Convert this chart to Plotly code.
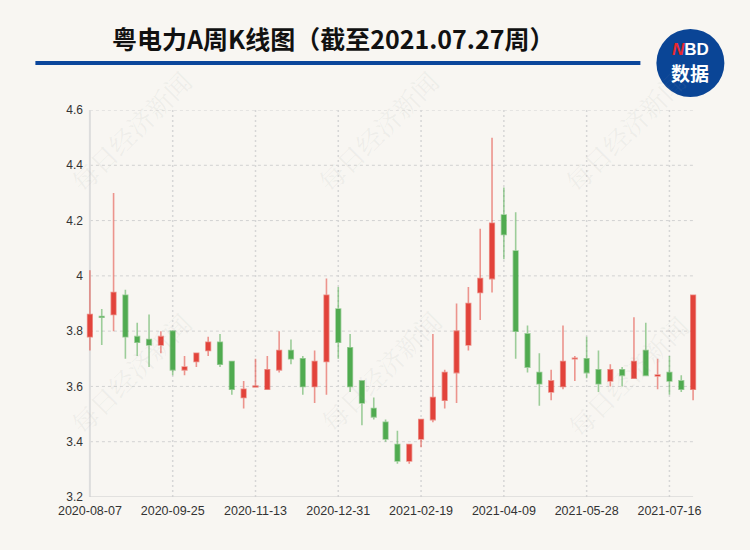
import plotly.graph_objects as go

dates = ["2020-08-07", "2020-08-14", "2020-08-21", "2020-08-28", "2020-09-04", "2020-09-11", "2020-09-18",
         "2020-09-25", "2020-09-30", "2020-10-09", "2020-10-16", "2020-10-23", "2020-10-30", "2020-11-06",
         "2020-11-13", "2020-11-20", "2020-11-27", "2020-12-04", "2020-12-11", "2020-12-18", "2020-12-25",
         "2020-12-31", "2021-01-08", "2021-01-15", "2021-01-22", "2021-01-29", "2021-02-05", "2021-02-10",
         "2021-02-19", "2021-02-26", "2021-03-05", "2021-03-12", "2021-03-19", "2021-03-26", "2021-04-02",
         "2021-04-09", "2021-04-16", "2021-04-23", "2021-04-30", "2021-05-07", "2021-05-14", "2021-05-21",
         "2021-05-28", "2021-06-04", "2021-06-11", "2021-06-18", "2021-06-25", "2021-07-02", "2021-07-09",
         "2021-07-16", "2021-07-23", "2021-07-27"]

open_ = [3.78, 3.853, 3.86, 3.93, 3.78, 3.77, 3.75, 3.80, 3.66, 3.69, 3.73, 3.76, 3.69,
         3.56, 3.598, 3.59, 3.66, 3.73, 3.70, 3.60, 3.69, 3.88, 3.74, 3.62, 3.52, 3.47,
         3.39, 3.33, 3.41, 3.48, 3.55, 3.65, 3.75, 3.94, 3.99, 4.22, 4.09, 3.79, 3.65,
         3.58, 3.60, 3.70, 3.70, 3.66, 3.62, 3.66, 3.63, 3.73, 3.638, 3.65, 3.62, 3.59]
close = [3.86, 3.850, 3.94, 3.78, 3.76, 3.75, 3.78, 3.66, 3.67, 3.72, 3.76, 3.68, 3.59,
         3.59, 3.601, 3.66, 3.73, 3.70, 3.60, 3.69, 3.93, 3.76, 3.60, 3.54, 3.49, 3.41,
         3.33, 3.39, 3.48, 3.56, 3.65, 3.80, 3.90, 3.99, 4.19, 4.15, 3.80, 3.67, 3.61,
         3.62, 3.69, 3.702, 3.65, 3.61, 3.66, 3.64, 3.69, 3.64, 3.641, 3.62, 3.59, 3.93]
high = [4.02, 3.88, 4.30, 3.95, 3.83, 3.86, 3.80, 3.80, 3.71, 3.72, 3.78, 3.79, 3.69,
        3.62, 3.70, 3.71, 3.80, 3.77, 3.71, 3.73, 3.99, 3.96, 3.79, 3.62, 3.56, 3.48,
        3.44, 3.39, 3.48, 3.79, 3.66, 3.90, 3.96, 4.17, 4.50, 4.32, 4.23, 3.82, 3.72,
        3.66, 3.82, 3.71, 3.78, 3.73, 3.68, 3.67, 3.85, 3.83, 3.70, 3.71, 3.64, 3.93]
low = [3.73, 3.75, 3.80, 3.70, 3.71, 3.67, 3.72, 3.64, 3.64, 3.67, 3.71, 3.67, 3.57,
       3.52, 3.595, 3.59, 3.65, 3.68, 3.57, 3.54, 3.57, 3.70, 3.58, 3.46, 3.48, 3.40,
       3.32, 3.32, 3.38, 3.47, 3.52, 3.54, 3.73, 3.84, 3.94, 4.06, 3.70, 3.65, 3.53,
       3.55, 3.59, 3.62, 3.63, 3.58, 3.60, 3.60, 3.63, 3.64, 3.59, 3.57, 3.58, 3.55]

x_tick_idx = [0, 7, 14, 21, 28, 35, 42, 49]
y_ticks = [3.2, 3.4, 3.6, 3.8, 4.0, 4.2, 4.4, 4.6]
y_ticktext = ["3.2", "3.4", "3.6", "3.8", "4", "4.2", "4.4", "4.6"]

title_text = "粤电力A周K线图（截至2021.07.27周）"
watermark = "每日经济新闻"

BG = "#f8f6f2"
RED_BODY = "#e2433b"
RED_WICK = "rgba(226,67,59,0.55)"
GREEN_BODY = "#50ab50"
GREEN_WICK = "rgba(80,171,80,0.55)"

L, R, T, B = 83.6, 51.4, 110, 53.3
PW, PH = 750 - L - R, 550 - T - B

def px(xp):
    return (xp - L) / PW

def py(yp):
    return (550 - B - yp) / PH

fig = go.Figure()
fig.add_trace(go.Candlestick(
    x=dates, open=open_, high=high, low=low, close=close,
    increasing=dict(line=dict(color=RED_WICK, width=1.6), fillcolor=RED_BODY),
    decreasing=dict(line=dict(color=GREEN_WICK, width=1.6), fillcolor=GREEN_BODY),
    whiskerwidth=0, showlegend=False, hoverinfo="skip",
))

n = len(dates)
shapes = []
for v in y_ticks[1:]:
    shapes.append(dict(type="line", xref="x", yref="y", x0=0, x1=n - 1, y0=v, y1=v,
                       line=dict(color="#d2d2d2", width=1, dash="3px,3px"), layer="below"))
for i in x_tick_idx[1:]:
    shapes.append(dict(type="line", xref="x", yref="y", x0=i, x1=i, y0=y_ticks[0], y1=y_ticks[-1],
                       line=dict(color="#d6d6d6", width=1.5, dash="2px,3px"), layer="below"))
shapes.append(dict(type="line", xref="x", yref="y", x0=0, x1=0, y0=y_ticks[0], y1=y_ticks[-1],
                   line=dict(color="#dddddd", width=2), layer="below"))
shapes.append(dict(type="line", xref="x", yref="y", x0=0, x1=n - 1, y0=y_ticks[0], y1=y_ticks[0],
                   line=dict(color="#cccccc", width=1), layer="below"))
shapes.append(dict(type="line", xref="paper", yref="paper", x0=px(35), x1=px(640),
                   y0=py(63), y1=py(63), line=dict(color="#0b469b", width=4)))
cx, cy, r = 690, 63, 34
shapes.append(dict(type="circle", xref="paper", yref="paper", x0=px(cx - r), x1=px(cx + r),
                   y0=py(cy + r), y1=py(cy - r), fillcolor="#0a4596", line=dict(width=0)))

annotations = []
for (wx, wy) in [(130, 130), (377, 130), (624, 130), (130, 372), (380, 370), (627, 375)]:
    annotations.append(dict(xref="paper", yref="paper", x=px(wx), y=py(wy), text=watermark,
                            showarrow=False, textangle=-45, xanchor="center", yanchor="middle",
                            font=dict(family="Noto Serif CJK SC, Noto Sans CJK SC", size=26,
                                      color="rgba(150,150,150,0.10)")))
annotations.append(dict(xref="paper", yref="paper", x=px(333), y=py(38), text="<b>" + title_text + "</b>",
                        showarrow=False, xanchor="center", yanchor="middle",
                        font=dict(family="Noto Sans CJK SC", size=25, color="#111111")))
annotations.append(dict(xref="paper", yref="paper", x=px(690), y=py(50),
                        text="<b><i><span style='color:#e8292e'>N</span></i>BD</b>",
                        showarrow=False, xanchor="center", yanchor="middle",
                        font=dict(family="Liberation Sans", size=17, color="white")))
annotations.append(dict(xref="paper", yref="paper", x=px(690), y=py(73), text="<b>数据</b>",
                        showarrow=False, xanchor="center", yanchor="middle",
                        font=dict(family="Noto Sans CJK SC", size=19, color="white")))

fig.update_layout(
    width=750, height=550,
    margin=dict(l=L, r=R, t=T, b=B),
    paper_bgcolor=BG, plot_bgcolor=BG,
    showlegend=False,
    boxgap=0.45,
    shapes=shapes, annotations=annotations,
    xaxis=dict(type="category", categoryorder="array", categoryarray=dates,
               range=[-0.5, n - 0.5], rangeslider=dict(visible=False),
               tickmode="array", tickvals=[dates[i] for i in x_tick_idx],
               ticktext=[dates[i] for i in x_tick_idx],
               showgrid=False, showline=False, zeroline=False, ticks="",
               ticklabelstandoff=4,
               tickfont=dict(family="Liberation Sans", size=12.5, color="#333333")),
    yaxis=dict(range=[y_ticks[0], y_ticks[-1]], tickmode="array", tickvals=y_ticks, ticktext=y_ticktext,
               showgrid=False, showline=False, zeroline=False, ticks="",
               tickfont=dict(family="Liberation Sans", size=12, color="#333333")),
)

fig.write_html("out.html", config={"displayModeBar": False},
               post_script="document.body.style.margin='0px';")
